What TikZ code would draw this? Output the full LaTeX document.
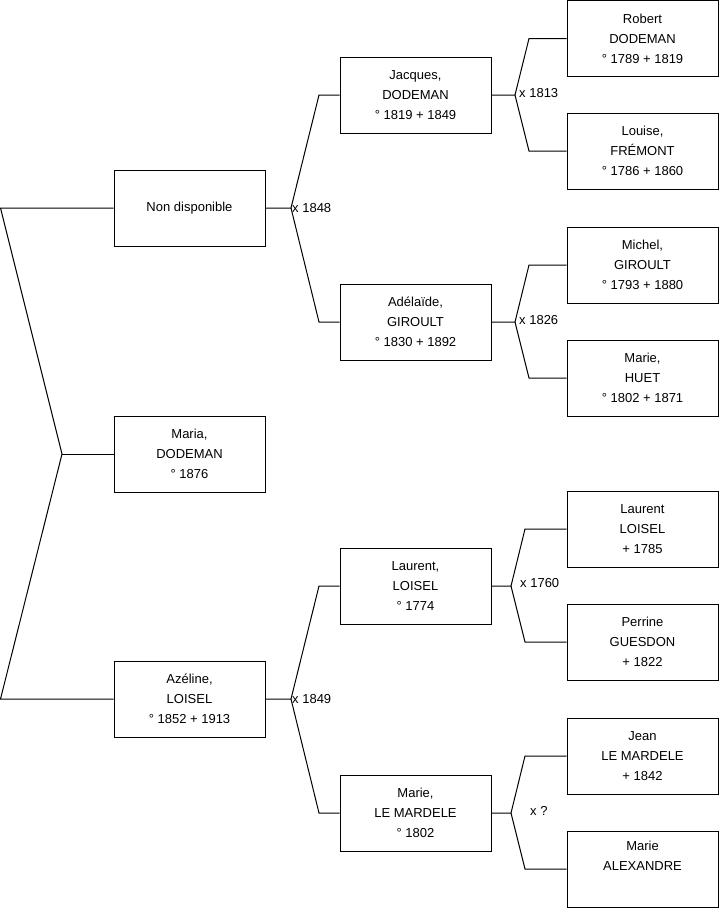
\documentclass[tikz,border=0pt]{standalone}
\usepackage{fontspec}
\setmainfont{Liberation Sans}
\begin{document}
\begin{tikzpicture}[x=1pt,y=-1pt,
  person/.style={draw=black,line width=1pt,rectangle,minimum width=151pt,minimum height=76pt,inner sep=0pt,align=center,font=\fontsize{13}{20}\selectfont},
  link/.style={draw=black,line width=1pt},
  mlabel/.style={anchor=west,inner sep=0pt,font=\fontsize{13}{15}\selectfont}]
\useasboundingbox (0,0) rectangle (719,908);
% level 1
\node[person] (nd) at (189.5,208) {Non disponible};
\node[person] (maria) at (189.5,454) {Maria,\\DODEMAN\\° 1876};
\node[person] (az) at (189.5,699) {Azéline,\\LOISEL\\° 1852 + 1913};
% level 2
\node[person] (jac) at (415.5,95) {Jacques,\\DODEMAN\\° 1819 + 1849};
\node[person] (ade) at (415.5,322) {Adélaïde,\\GIROULT\\° 1830 + 1892};
\node[person] (lau) at (415.5,586) {Laurent,\\LOISEL\\° 1774};
\node[person] (mar) at (415.5,813) {Marie,\\LE MARDELE\\° 1802};
% level 3
\node[person] (rob) at (642.5,38.5) {Robert\\DODEMAN\\° 1789 + 1819};
\node[person] (lou) at (642.5,151) {Louise,\\FRÉMONT\\° 1786 + 1860};
\node[person] (mic) at (642.5,265) {Michel,\\GIROULT\\° 1793 + 1880};
\node[person] (hue) at (642.5,378) {Marie,\\HUET\\° 1802 + 1871};
\node[person] (lau2) at (642.5,529) {Laurent\\LOISEL\\+ 1785};
\node[person] (per) at (642.5,642) {Perrine\\GUESDON\\+ 1822};
\node[person] (jea) at (642.5,756) {Jean\\LE MARDELE\\+ 1842};
\node[person] (ale) at (642.5,869) {Marie\\ALEXANDRE\\\strut};
% root bracket
\coordinate (r1) at (0.5,208);
\coordinate (rv) at (62,454);
\coordinate (r3) at (0.5,699);
\draw[link] (nd.west) -- (r1) -- (rv) -- (r3) -- (az.west);
\draw[link] (rv) -- (maria.west);
% couples
\coordinate (v1) at (291,208); \coordinate (v1a) at (319,95); \coordinate (v1b) at (319,322);
\draw[link] (nd.east) -- (v1) -- (v1a) -- (jac.west);
\draw[link] (v1) -- (v1b) -- (ade.west);
\node[mlabel] (m1) at (292,208) {x 1848};
\coordinate (v2) at (291,699); \coordinate (v2a) at (319,586); \coordinate (v2b) at (319,813);
\draw[link] (az.east) -- (v2) -- (v2a) -- (lau.west);
\draw[link] (v2) -- (v2b) -- (mar.west);
\node[mlabel] (m2) at (292,699) {x 1849};
\coordinate (v3) at (515,95); \coordinate (v3a) at (529,38.5); \coordinate (v3b) at (529,151);
\draw[link] (jac.east) -- (v3) -- (v3a) -- (rob.west);
\draw[link] (v3) -- (v3b) -- (lou.west);
\node[mlabel] (m3) at (519,93) {x 1813};
\coordinate (v4) at (515,322); \coordinate (v4a) at (529,265); \coordinate (v4b) at (529,378);
\draw[link] (ade.east) -- (v4) -- (v4a) -- (mic.west);
\draw[link] (v4) -- (v4b) -- (hue.west);
\node[mlabel] (m4) at (519,320) {x 1826};
\coordinate (v5) at (511,586); \coordinate (v5a) at (525,529); \coordinate (v5b) at (525,642);
\draw[link] (lau.east) -- (v5) -- (v5a) -- (lau2.west);
\draw[link] (v5) -- (v5b) -- (per.west);
\node[mlabel] (m5) at (520,583) {x 1760};
\coordinate (v6) at (511,813); \coordinate (v6a) at (525,756); \coordinate (v6b) at (525,869);
\draw[link] (mar.east) -- (v6) -- (v6a) -- (jea.west);
\draw[link] (v6) -- (v6b) -- (ale.west);
\node[mlabel] (m6) at (530,811) {x ?};
\end{tikzpicture}
\end{document}
